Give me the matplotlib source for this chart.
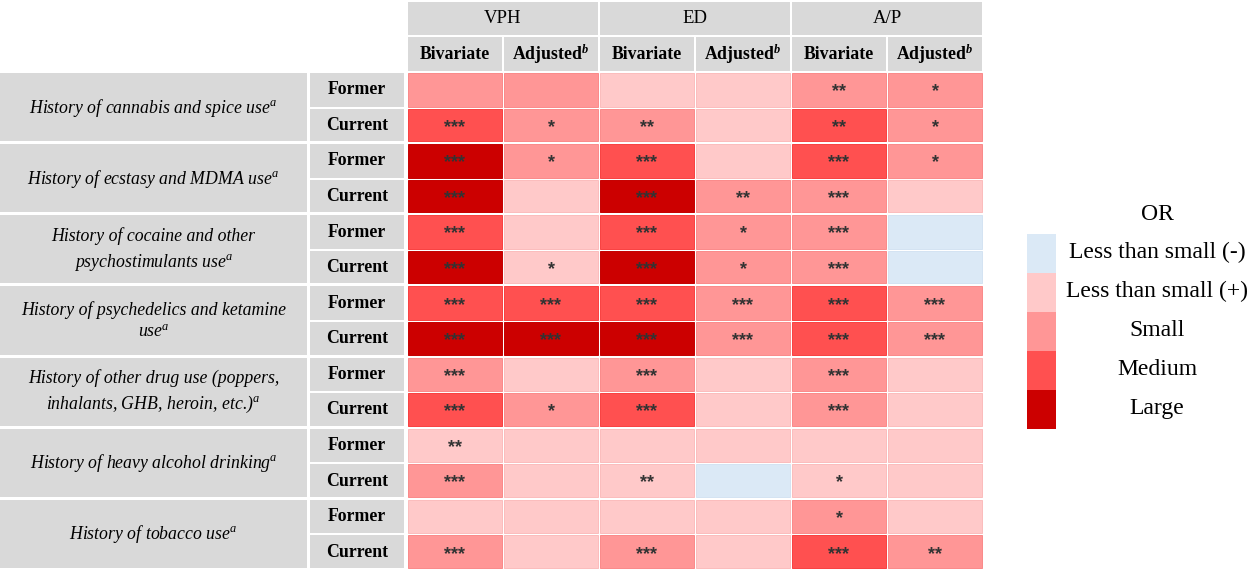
import matplotlib.pyplot as plt
from matplotlib.patches import Rectangle

plt.rcParams['font.family'] = ['Liberation Serif', 'DejaVu Serif']
plt.rcParams['mathtext.fontset'] = 'custom'
plt.rcParams['mathtext.rm'] = 'Liberation Serif'
plt.rcParams['mathtext.it'] = 'Liberation Serif:italic'
plt.rcParams['mathtext.bf'] = 'Liberation Serif:bold:italic'

# table content
groups = ["History of cannabis and spice use$^{a}$",
          "History of ecstasy and MDMA use$^{a}$",
          "History of cocaine and other\npsychostimulants use$^{a}$",
          "History of psychedelics and ketamine\nuse$^{a}$",
          "History of other drug use (poppers,\ninhalants, GHB, heroin, etc.)$^{a}$",
          "History of heavy alcohol drinking$^{a}$",
          "History of tobacco use$^{a}$"]
status = ["Former", "Current"]
outcomes = ["VPH", "ED", "A/P"]
models = ["Bivariate", r"Adjusted$^{\mathbf{b}}$"]

# OR category per cell: 0 = less than small (-), 1 = less than small (+),
# 2 = small, 3 = medium, 4 = large
levels = [[2, 2, 1, 1, 2, 2],
          [3, 2, 2, 1, 3, 2],
          [4, 2, 3, 1, 3, 2],
          [4, 1, 4, 2, 2, 1],
          [3, 1, 3, 2, 2, 0],
          [4, 1, 4, 2, 2, 0],
          [3, 3, 3, 2, 3, 2],
          [4, 4, 4, 2, 3, 2],
          [2, 1, 2, 1, 2, 1],
          [3, 2, 3, 1, 2, 1],
          [1, 1, 1, 1, 1, 1],
          [2, 1, 1, 0, 1, 1],
          [1, 1, 1, 1, 2, 1],
          [2, 1, 2, 1, 3, 2]]

stars = [["", "", "", "", "**", "*"],
         ["***", "*", "**", "", "**", "*"],
         ["***", "*", "***", "", "***", "*"],
         ["***", "", "***", "**", "***", ""],
         ["***", "", "***", "*", "***", ""],
         ["***", "*", "***", "*", "***", ""],
         ["***", "***", "***", "***", "***", "***"],
         ["***", "***", "***", "***", "***", "***"],
         ["***", "", "***", "", "***", ""],
         ["***", "*", "***", "", "***", ""],
         ["**", "", "", "", "", ""],
         ["***", "", "**", "", "*", ""],
         ["", "", "", "", "*", ""],
         ["***", "", "***", "", "***", "**"]]

legend_labels = ["Less than small (-)", "Less than small (+)", "Small", "Medium", "Large"]
colors = ["#dbe9f6", "#ffc9c9", "#ff9696", "#ff5050", "#cc0000"]
edge_colors = ["#d4e3f2", "#fbbcbc", "#fa8a8a", "#f84040", "#c40000"]
grey = "#d9d9d9"

# pixel layout
W, H = 1248, 571
y0 = 73
pitch = 35.57
gap = 2
lab_x, lab_w = 0, 307
sub_x, sub_w = 310, 96
col_x0, col_pitch, col_w = 408, 96, 94

fig = plt.figure(figsize=(W / 100, H / 100), dpi=100)
ax = fig.add_axes([0, 0, 1, 1])
ax.set_xlim(0, W)
ax.set_ylim(H, 0)
ax.axis('off')

# header rows
for k, name in enumerate(outcomes):
    x = col_x0 + 2 * k * col_pitch
    w = 2 * col_pitch - gap
    ax.add_patch(Rectangle((x, y0 - 2 * pitch), w, pitch - gap, facecolor=grey, edgecolor='none'))
    ax.text(x + w / 2, y0 - 1.5 * pitch - 1, name, ha='center', va='center', fontsize=13.5)
    for m, mod in enumerate(models):
        xm = col_x0 + (2 * k + m) * col_pitch
        ax.add_patch(Rectangle((xm, y0 - pitch), col_w, pitch - gap, facecolor=grey, edgecolor='none'))
        ax.text(xm + col_w / 2, y0 - 0.5 * pitch - 1, mod, ha='center', va='center',
                fontsize=12.8, fontweight='bold')

# group labels and Former / Current
for g, name in enumerate(groups):
    yg = y0 + 2 * g * pitch
    ax.add_patch(Rectangle((lab_x, yg), lab_w, 2 * pitch - gap - 1, facecolor=grey, edgecolor='none'))
    ax.text(lab_x + lab_w / 2, yg + pitch - 1, name, ha='center', va='center',
            fontsize=12.8, fontstyle='italic', linespacing=1.45)
    for s, st in enumerate(status):
        ys = yg + s * pitch
        ax.add_patch(Rectangle((sub_x, ys), sub_w - gap, pitch - gap - (1 if s == 1 else 0),
                               facecolor=grey, edgecolor='none'))
        ax.text(sub_x + (sub_w - gap) / 2, ys + pitch / 2 - 1, st, ha='center', va='center',
                fontsize=12.8, fontweight='bold')

# heat cells
for i, row in enumerate(levels):
    for j, lev in enumerate(row):
        x = col_x0 + j * col_pitch
        y = y0 + i * pitch
        ax.add_patch(Rectangle((x, y), col_w, pitch - gap - (1 if i % 2 == 1 else 0),
                               facecolor=colors[lev], edgecolor=edge_colors[lev], linewidth=0.7))
        if stars[i][j]:
            ax.text(x + col_w / 2, y + pitch / 2 + 1, stars[i][j], ha='center', va='center',
                    fontsize=13, family='Liberation Sans', fontweight='bold', color='#333333')

# legend
leg_x, leg_y, leg_w, leg_h = 1027, 234, 29, 39
ax.text(1157, 215, "OR", ha='center', va='center', fontsize=17)
for k, lab in enumerate(legend_labels):
    ax.add_patch(Rectangle((leg_x, leg_y + k * leg_h), leg_w, leg_h,
                           facecolor=colors[k], edgecolor='none'))
    ax.text(1157, leg_y + k * leg_h + leg_h / 2 - 1, lab, ha='center', va='center', fontsize=17)

fig.savefig("out.png", dpi=100)
